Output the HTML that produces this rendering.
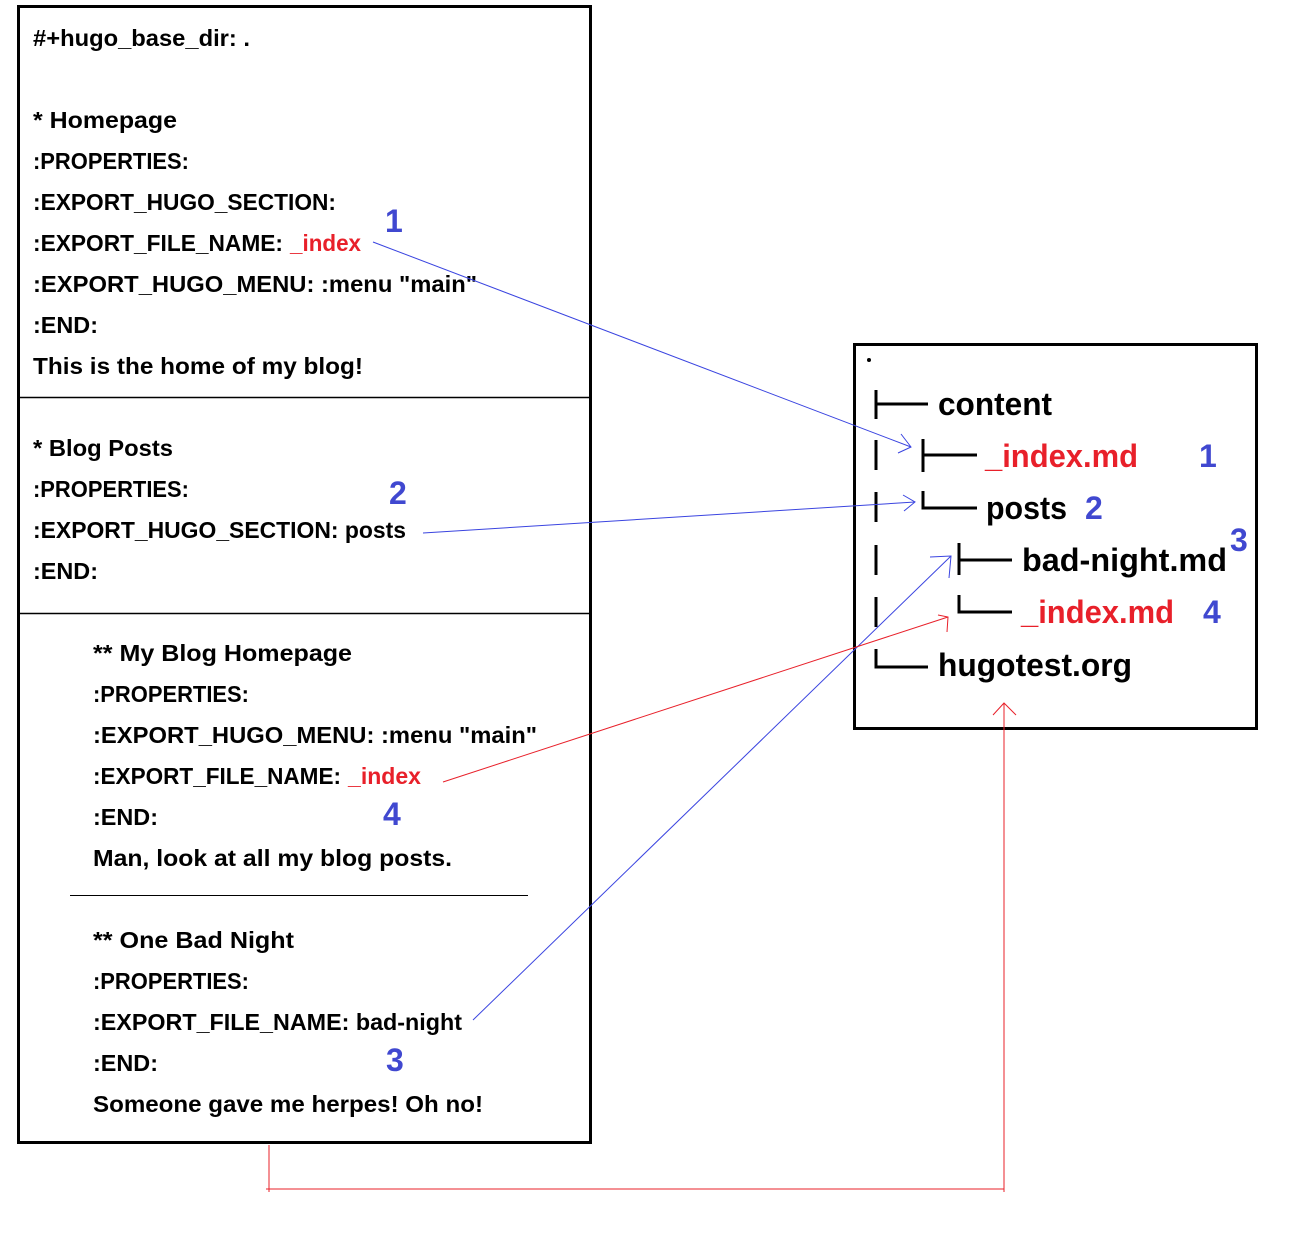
<!DOCTYPE html>
<html><head><meta charset="utf-8"><style>
html,body{margin:0;padding:0;background:#fff;}
svg{display:block;}
text{font-family:"Liberation Sans",sans-serif;font-weight:bold;}
</style></head><body>
<svg width="1294" height="1244" viewBox="0 0 1294 1244" xmlns="http://www.w3.org/2000/svg">
<rect x="0" y="0" width="1294" height="1244" fill="#fff"/>
<rect x="18.5" y="6.5" width="572" height="1136" fill="none" stroke="#000" stroke-width="3"/>
<line x1="18" y1="397.5" x2="591" y2="397.5" stroke="#000" stroke-width="1.5"/>
<line x1="18" y1="613.5" x2="591" y2="613.5" stroke="#000" stroke-width="1.5"/>
<line x1="70" y1="895.5" x2="528" y2="895.5" stroke="#000" stroke-width="1"/>
<g font-size="23.5" fill="#000">
<text x="33" y="46" textLength="217" lengthAdjust="spacingAndGlyphs">#+hugo_base_dir: .</text>
<text x="33" y="128" textLength="144" lengthAdjust="spacingAndGlyphs">* Homepage</text>
<text x="33" y="169" textLength="156" lengthAdjust="spacingAndGlyphs">:PROPERTIES:</text>
<text x="33" y="210" textLength="303" lengthAdjust="spacingAndGlyphs">:EXPORT_HUGO_SECTION:</text>
<text x="33" y="251" textLength="250" lengthAdjust="spacingAndGlyphs">:EXPORT_FILE_NAME:</text>
<text x="290" y="251" fill="#e8202a" textLength="71" lengthAdjust="spacingAndGlyphs">_index</text>
<text x="33" y="292" textLength="444" lengthAdjust="spacingAndGlyphs">:EXPORT_HUGO_MENU: :menu "main"</text>
<text x="33" y="333" textLength="65" lengthAdjust="spacingAndGlyphs">:END:</text>
<text x="33" y="374" textLength="330" lengthAdjust="spacingAndGlyphs">This is the home of my blog!</text>
<text x="33" y="456" textLength="140" lengthAdjust="spacingAndGlyphs">* Blog Posts</text>
<text x="33" y="497" textLength="156" lengthAdjust="spacingAndGlyphs">:PROPERTIES:</text>
<text x="33" y="538" textLength="373" lengthAdjust="spacingAndGlyphs">:EXPORT_HUGO_SECTION: posts</text>
<text x="33" y="579" textLength="65" lengthAdjust="spacingAndGlyphs">:END:</text>
<text x="93" y="661" textLength="259" lengthAdjust="spacingAndGlyphs">** My Blog Homepage</text>
<text x="93" y="702" textLength="156" lengthAdjust="spacingAndGlyphs">:PROPERTIES:</text>
<text x="93" y="743" textLength="444" lengthAdjust="spacingAndGlyphs">:EXPORT_HUGO_MENU: :menu "main"</text>
<text x="93" y="784" textLength="248" lengthAdjust="spacingAndGlyphs">:EXPORT_FILE_NAME:</text>
<text x="348" y="784" fill="#e8202a" textLength="73" lengthAdjust="spacingAndGlyphs">_index</text>
<text x="93" y="825" textLength="65" lengthAdjust="spacingAndGlyphs">:END:</text>
<text x="93" y="866" textLength="359" lengthAdjust="spacingAndGlyphs">Man, look at all my blog posts.</text>
<text x="93" y="948" textLength="201" lengthAdjust="spacingAndGlyphs">** One Bad Night</text>
<text x="93" y="989" textLength="156" lengthAdjust="spacingAndGlyphs">:PROPERTIES:</text>
<text x="93" y="1030" textLength="369" lengthAdjust="spacingAndGlyphs">:EXPORT_FILE_NAME: bad-night</text>
<text x="93" y="1071" textLength="65" lengthAdjust="spacingAndGlyphs">:END:</text>
<text x="93" y="1112" textLength="390" lengthAdjust="spacingAndGlyphs">Someone gave me herpes! Oh no!</text>
</g>
<rect x="854.5" y="344.5" width="402" height="384" fill="none" stroke="#000" stroke-width="3"/>
<circle cx="869" cy="360" r="2" fill="#000"/>
<g stroke="#000" stroke-width="3" fill="none">
<line x1="876" y1="390" x2="876" y2="419"/><line x1="876" y1="404" x2="928" y2="404"/>
<line x1="876" y1="440" x2="876" y2="470"/>
<line x1="876" y1="492" x2="876" y2="522"/>
<line x1="876" y1="545" x2="876" y2="575"/>
<line x1="876" y1="597" x2="876" y2="627"/>
<polyline points="876,649 876,667 928,667"/>
<line x1="923" y1="439" x2="923" y2="472"/><line x1="923" y1="455" x2="977" y2="455"/>
<polyline points="923,491 923,508 977,508"/>
<line x1="959" y1="543" x2="959" y2="575"/><line x1="959" y1="560" x2="1012" y2="560"/>
<polyline points="959,595 959,612 1012,612"/>
</g>
<g font-size="32" fill="#000">
<text x="938" y="415" textLength="114" lengthAdjust="spacingAndGlyphs">content</text>
<text x="985" y="467" fill="#e8202a" textLength="153" lengthAdjust="spacingAndGlyphs">_index.md</text>
<text x="986" y="519" textLength="81" lengthAdjust="spacingAndGlyphs">posts</text>
<text x="1022" y="571" textLength="205" lengthAdjust="spacingAndGlyphs">bad-night.md</text>
<text x="1021" y="623" fill="#e8202a" textLength="153" lengthAdjust="spacingAndGlyphs">_index.md</text>
<text x="938" y="676" textLength="194" lengthAdjust="spacingAndGlyphs">hugotest.org</text>
</g>
<g font-size="32" fill="#4048d0">
<text x="385" y="232">1</text>
<text x="389" y="504">2</text>
<text x="383" y="825">4</text>
<text x="386" y="1071">3</text>
<text x="1199" y="467">1</text>
<text x="1085" y="519">2</text>
<text x="1230" y="551">3</text>
<text x="1203" y="623">4</text>
</g>
<g stroke="#3a44e0" stroke-width="1" fill="none">
<line x1="373" y1="242" x2="911" y2="447"/>
<polyline points="901,434 911,447 898,453"/>
<line x1="423" y1="533" x2="915" y2="502"/>
<polyline points="903,495 915,502 904,511"/>
<line x1="473" y1="1020" x2="951" y2="556"/>
<polyline points="930,557 951,556 949,578"/>
</g>
<g stroke="#e8202a" stroke-width="1" fill="none">
<line x1="443" y1="782" x2="948" y2="617"/>
<polyline points="938,615 948,617 947,632"/>
<polyline points="269,1145 269,1192"/>
<line x1="266" y1="1189" x2="1004" y2="1189"/>
<line x1="1004" y1="1192" x2="1004" y2="703"/>
<polyline points="993,715 1004,703 1016,715"/>
</g>
</svg>
</body></html>
